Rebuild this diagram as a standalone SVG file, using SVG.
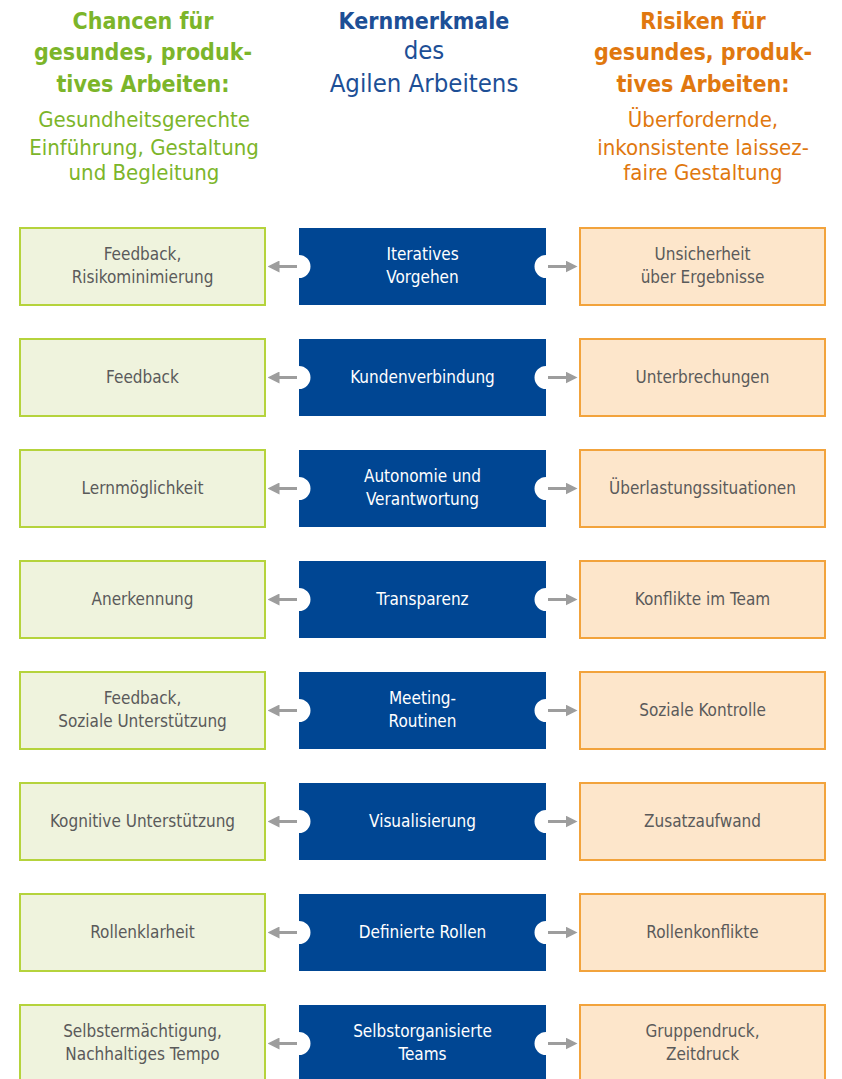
<svg xmlns="http://www.w3.org/2000/svg" width="842" height="1079" viewBox="0 0 842 1079">
<style>
.t{font-family:"DejaVu Sans Condensed","DejaVu Sans",sans-serif;font-stretch:condensed;text-anchor:middle}
.hb{font-size:23px;font-weight:bold}
.hr{font-size:22px}
.hm{font-size:25.5px}
.g{fill:#7cb52a}
.o{fill:#e0780f}
.b{fill:#1d4f96}
.bx{font-size:17px}
.lb{fill:#eff3dd;stroke:#b5d33c;stroke-width:2}
.rb{fill:#fde6cb;stroke:#f2a33c;stroke-width:2}
.mb{fill:#004693}
.lt{fill:#5a5a5a}
.wt{fill:#ffffff}
.ar{stroke:#9d9d9d;stroke-width:3;fill:none}
</style>
<defs>
<marker id="ah" markerWidth="4" markerHeight="4" refX="2.5" refY="2" orient="auto" markerUnits="strokeWidth">
<path d="M0,0 L4,2 L0,4 z" fill="#9d9d9d"/>
</marker>
<path id="mid" d="M0,0 H247 V27 A11.5,11.5 0 0 0 247,50 V77 H0 V50 A11.5,11.5 0 0 0 0,27 Z"/>
</defs>
<rect width="842" height="1079" fill="#ffffff"/>
<g id="header">
<text class="t hb g" x="143" y="29">Chancen für</text>
<text class="t hb g" x="143" y="60">gesundes, produk-</text>
<text class="t hb g" x="143" y="92">tives Arbeiten:</text>
<text class="t hr g" x="144" y="127">Gesundheitsgerechte</text>
<text class="t hr g" x="144" y="155">Einführung, Gestaltung</text>
<text class="t hr g" x="144" y="180">und Begleitung</text>
<text class="t hb b" x="424" y="29">Kernmerkmale</text>
<text class="t hm b" x="424" y="59">des</text>
<text class="t hm b" x="424" y="92">Agilen Arbeitens</text>
<text class="t hb o" x="703" y="29">Risiken für</text>
<text class="t hb o" x="703" y="60">gesundes, produk-</text>
<text class="t hb o" x="703" y="92">tives Arbeiten:</text>
<text class="t hr o" x="703" y="127">Überfordernde,</text>
<text class="t hr o" x="703" y="155">inkonsistente laissez-</text>
<text class="t hr o" x="703" y="180">faire Gestaltung</text>
</g>
<g id="connectors">
<line class="ar" x1="297" y1="266.5" x2="272" y2="266.5" marker-end="url(#ah)"/>
<line class="ar" x1="548" y1="266.5" x2="573" y2="266.5" marker-end="url(#ah)"/>
<line class="ar" x1="297" y1="377.5" x2="272" y2="377.5" marker-end="url(#ah)"/>
<line class="ar" x1="548" y1="377.5" x2="573" y2="377.5" marker-end="url(#ah)"/>
<line class="ar" x1="297" y1="488.5" x2="272" y2="488.5" marker-end="url(#ah)"/>
<line class="ar" x1="548" y1="488.5" x2="573" y2="488.5" marker-end="url(#ah)"/>
<line class="ar" x1="297" y1="599.5" x2="272" y2="599.5" marker-end="url(#ah)"/>
<line class="ar" x1="548" y1="599.5" x2="573" y2="599.5" marker-end="url(#ah)"/>
<line class="ar" x1="297" y1="710.5" x2="272" y2="710.5" marker-end="url(#ah)"/>
<line class="ar" x1="548" y1="710.5" x2="573" y2="710.5" marker-end="url(#ah)"/>
<line class="ar" x1="297" y1="821.5" x2="272" y2="821.5" marker-end="url(#ah)"/>
<line class="ar" x1="548" y1="821.5" x2="573" y2="821.5" marker-end="url(#ah)"/>
<line class="ar" x1="297" y1="932.5" x2="272" y2="932.5" marker-end="url(#ah)"/>
<line class="ar" x1="548" y1="932.5" x2="573" y2="932.5" marker-end="url(#ah)"/>
<line class="ar" x1="297" y1="1043.5" x2="272" y2="1043.5" marker-end="url(#ah)"/>
<line class="ar" x1="548" y1="1043.5" x2="573" y2="1043.5" marker-end="url(#ah)"/>
</g>
<g id="row1">
<rect class="lb" x="20" y="228" width="245" height="77"/>
<text class="t bx lt" x="142.5" y="260">Feedback,</text>
<text class="t bx lt" x="142.5" y="283">Risikominimierung</text>
<use href="#mid" class="mb" x="299" y="228"/>
<text class="t bx wt" x="422.5" y="260">Iteratives</text>
<text class="t bx wt" x="422.5" y="283">Vorgehen</text>
<rect class="rb" x="580" y="228" width="245" height="77"/>
<text class="t bx lt" x="702.5" y="260">Unsicherheit</text>
<text class="t bx lt" x="702.5" y="283">über Ergebnisse</text>
</g>
<g id="row2">
<rect class="lb" x="20" y="339" width="245" height="77"/>
<text class="t bx lt" x="142.5" y="383">Feedback</text>
<use href="#mid" class="mb" x="299" y="339"/>
<text class="t bx wt" x="422.5" y="383">Kundenverbindung</text>
<rect class="rb" x="580" y="339" width="245" height="77"/>
<text class="t bx lt" x="702.5" y="383">Unterbrechungen</text>
</g>
<g id="row3">
<rect class="lb" x="20" y="450" width="245" height="77"/>
<text class="t bx lt" x="142.5" y="494">Lernmöglichkeit</text>
<use href="#mid" class="mb" x="299" y="450"/>
<text class="t bx wt" x="422.5" y="482">Autonomie und</text>
<text class="t bx wt" x="422.5" y="505">Verantwortung</text>
<rect class="rb" x="580" y="450" width="245" height="77"/>
<text class="t bx lt" x="702.5" y="494">Überlastungssituationen</text>
</g>
<g id="row4">
<rect class="lb" x="20" y="561" width="245" height="77"/>
<text class="t bx lt" x="142.5" y="605">Anerkennung</text>
<use href="#mid" class="mb" x="299" y="561"/>
<text class="t bx wt" x="422.5" y="605">Transparenz</text>
<rect class="rb" x="580" y="561" width="245" height="77"/>
<text class="t bx lt" x="702.5" y="605">Konflikte im Team</text>
</g>
<g id="row5">
<rect class="lb" x="20" y="672" width="245" height="77"/>
<text class="t bx lt" x="142.5" y="704">Feedback,</text>
<text class="t bx lt" x="142.5" y="727">Soziale Unterstützung</text>
<use href="#mid" class="mb" x="299" y="672"/>
<text class="t bx wt" x="422.5" y="704">Meeting-</text>
<text class="t bx wt" x="422.5" y="727">Routinen</text>
<rect class="rb" x="580" y="672" width="245" height="77"/>
<text class="t bx lt" x="702.5" y="716">Soziale Kontrolle</text>
</g>
<g id="row6">
<rect class="lb" x="20" y="783" width="245" height="77"/>
<text class="t bx lt" x="142.5" y="827">Kognitive Unterstützung</text>
<use href="#mid" class="mb" x="299" y="783"/>
<text class="t bx wt" x="422.5" y="827">Visualisierung</text>
<rect class="rb" x="580" y="783" width="245" height="77"/>
<text class="t bx lt" x="702.5" y="827">Zusatzaufwand</text>
</g>
<g id="row7">
<rect class="lb" x="20" y="894" width="245" height="77"/>
<text class="t bx lt" x="142.5" y="938">Rollenklarheit</text>
<use href="#mid" class="mb" x="299" y="894"/>
<text class="t bx wt" x="422.5" y="938">Definierte Rollen</text>
<rect class="rb" x="580" y="894" width="245" height="77"/>
<text class="t bx lt" x="702.5" y="938">Rollenkonflikte</text>
</g>
<g id="row8">
<rect class="lb" x="20" y="1005" width="245" height="77"/>
<text class="t bx lt" x="142.5" y="1037">Selbstermächtigung,</text>
<text class="t bx lt" x="142.5" y="1060">Nachhaltiges Tempo</text>
<use href="#mid" class="mb" x="299" y="1005"/>
<text class="t bx wt" x="422.5" y="1037">Selbstorganisierte</text>
<text class="t bx wt" x="422.5" y="1060">Teams</text>
<rect class="rb" x="580" y="1005" width="245" height="77"/>
<text class="t bx lt" x="702.5" y="1037">Gruppendruck,</text>
<text class="t bx lt" x="702.5" y="1060">Zeitdruck</text>
</g>
</svg>
